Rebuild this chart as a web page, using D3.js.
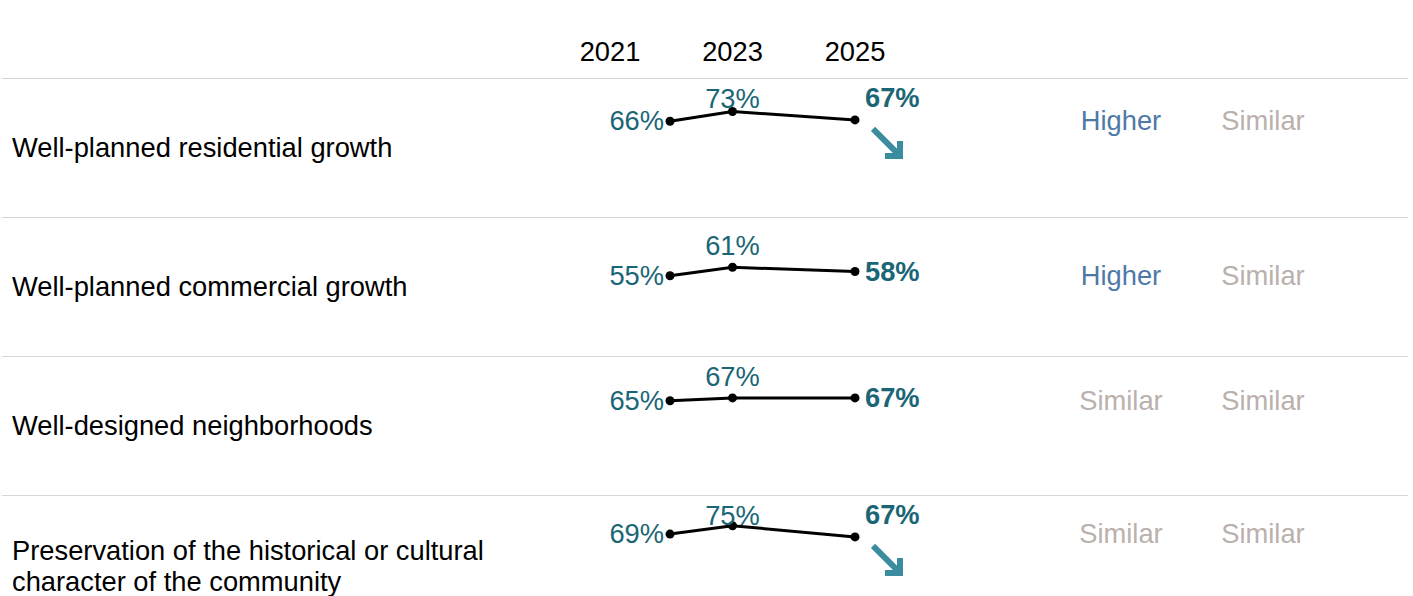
<!DOCTYPE html>
<html>
<head>
<meta charset="utf-8">
<script src="https://cdn.jsdelivr.net/npm/d3@7"></script>
<style>
  html, body { margin: 0; padding: 0; background: #fff; }
  svg { display: block; font-family: "Liberation Sans", Arial, sans-serif; }
</style>
</head>
<body>
<svg id="chart" width="1413" height="596"></svg>
<script>
// ---- data ----
const categories = [
  ["Well-planned residential growth"],
  ["Well-planned commercial growth"],
  ["Well-designed neighborhoods"],
  ["Preservation of the historical or cultural", "character of the community"]
];
const headerYears = [2021, 2023, 2025];
const surveyYears = [2021.98, 2023, 2025];
const values = [
  [66, 73, 67],
  [55, 61, 58],
  [65, 67, 67],
  [69, 75, 67]
];
const trend = ["down", null, null, "down"];
const compareA = ["Higher", "Higher", "Similar", "Similar"];
const compareB = ["Similar", "Similar", "Similar", "Similar"];

// ---- styles ----
const teal = "#1b6676";
const arrowTeal = "#3b8c9e";
const compColor = { Higher: "#4e79a7", Similar: "#bab0ac" };
const fs = 27.3;

const svg = d3.select("#chart");

const rowScale = d3.scaleBand().domain(d3.range(categories.length)).range([78, 78 + 139 * categories.length]);
const x = d3.scaleLinear().domain([2021, 2025]).range([610, 855]);
const yRel = d3.scaleLinear().domain([0, 100]).range([135.7, -4.3]);
const colX = d3.scalePoint().domain(["A", "B"]).range([1121, 1263]);

// header
svg.append("g").selectAll("text").data(headerYears).join("text")
  .attr("x", d => x(d)).attr("y", 60.5)
  .attr("text-anchor", "middle").attr("font-size", fs).attr("fill", "#000")
  .text(d => d);

// grid lines
svg.append("g").selectAll("line").data(d3.range(categories.length)).join("line")
  .attr("x1", 2).attr("x2", 1408)
  .attr("y1", d => rowScale(d) + 0.5).attr("y2", d => rowScale(d) + 0.5)
  .attr("stroke", "#d6d6d6").attr("stroke-width", 1);

const line = d3.line().x((d, i) => x(surveyYears[i]));

categories.forEach((cat, r) => {
  const top = rowScale(r);
  const g = svg.append("g");
  const yy = v => top + yRel(v);
  const vals = values[r];

  // category label
  const n = cat.length;
  g.append("g").selectAll("text").data(cat).join("text")
    .attr("x", 12)
    .attr("y", (d, i) => top + (n > 1 ? 80.5 : 79) + (i - (n - 1) / 2) * 31)
    .attr("font-size", fs).attr("fill", "#000")
    .text(d => d);

  // line
  g.append("path").datum(vals)
    .attr("d", line.y(d => yy(d)))
    .attr("fill", "none").attr("stroke", "#000").attr("stroke-width", 3);
  g.append("g").selectAll("circle").data(vals).join("circle")
    .attr("cx", (d, i) => x(surveyYears[i])).attr("cy", d => yy(d))
    .attr("r", 4.5).attr("fill", "#000");

  // first label
  g.append("text")
    .attr("x", x(surveyYears[0]) - 6).attr("y", yy(vals[0]) + 9)
    .attr("text-anchor", "end").attr("font-size", fs).attr("fill", teal)
    .text(vals[0] + "%");
  // middle label
  g.append("text")
    .attr("x", x(surveyYears[1])).attr("y", Math.max(yy(vals[1]) - 12, top + 29.5))
    .attr("text-anchor", "middle").attr("font-size", fs).attr("fill", teal)
    .text(vals[1] + "%");
  // last label
  const lx = x(surveyYears[2]), ly = yy(vals[2]);
  g.append("text")
    .attr("x", lx + 10).attr("y", trend[r] ? ly - 13 : ly + 9)
    .attr("font-size", fs).attr("font-weight", "bold").attr("fill", teal)
    .text(vals[2] + "%");
  if (trend[r] === "down") {
    g.append("path")
      .attr("transform", `translate(${lx + 32},${ly + 23})`)
      .attr("d", "M-14,-14L12,12M13,-2L13,13L-2,13")
      .attr("fill", "none").attr("stroke", arrowTeal).attr("stroke-width", 6)
      .attr("stroke-linejoin", "miter").attr("stroke-linecap", "butt");
  }

  // comparison columns
  const cy = yy(vals[0]) + 9;
  g.append("text").attr("x", colX("A")).attr("y", cy)
    .attr("text-anchor", "middle").attr("font-size", fs).attr("fill", compColor[compareA[r]])
    .text(compareA[r]);
  g.append("text").attr("x", colX("B")).attr("y", cy)
    .attr("text-anchor", "middle").attr("font-size", fs).attr("fill", compColor[compareB[r]])
    .text(compareB[r]);
});
</script>
</body>
</html>
